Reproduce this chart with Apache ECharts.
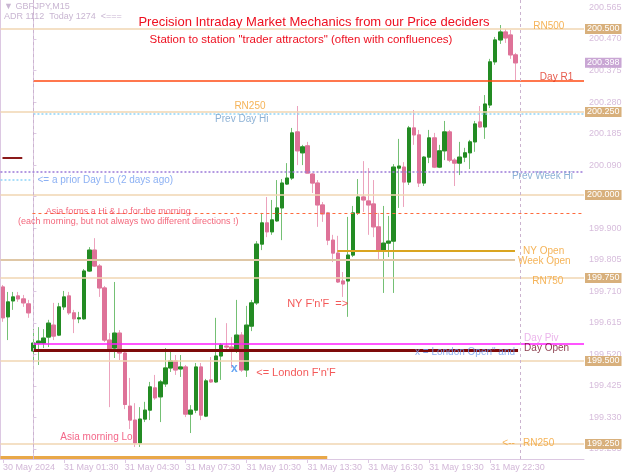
<!DOCTYPE html>
<html><head><meta charset="utf-8">
<script src="https://cdn.jsdelivr.net/npm/echarts@6/dist/echarts.min.js"></script>
<style>html,body{margin:0;padding:0;background:#fff}#c{width:625px;height:475px}</style>
</head><body><div id="c"></div>
<script>
// ---- data (bar index i: 0 = 31 May 00:00, M15 bars) ----
const firstBar = -6;
const lastSlot = 108;
const opens = [199.723,199.633,199.681,199.696,199.687,199.672,
199.530,199.554,199.554,199.572,199.608,199.578,199.663,199.696,199.645,199.627,
199.627,199.771,199.834,199.786,199.720,199.563,199.539,199.584,199.524,199.364,
199.322,199.253,199.325,199.352,199.419,199.392,199.431,199.479,199.500,199.476,
199.482,199.340,199.352,199.482,199.334,199.443,199.437,199.515,199.545,199.542,
199.530,199.578,199.473,199.605,199.675,199.852,199.916,199.889,199.922,199.961,
200.033,200.051,200.190,200.127,200.148,200.063,200.036,199.970,199.946,199.864,
199.825,199.741,199.741,199.819,199.946,199.994,199.982,199.973,199.904,199.831,
199.855,199.861,200.081,200.084,200.039,200.202,200.181,200.036,200.114,200.172,
200.084,200.133,200.190,200.105,200.096,200.114,200.127,200.160,200.220,200.205,
200.271,200.401,200.467,200.491,200.482,200.422];
const closes = [199.630,199.678,199.693,199.687,199.675,199.645,
199.554,199.560,199.569,199.614,199.575,199.663,199.693,199.645,199.627,199.630,
199.771,199.834,199.786,199.720,199.563,199.536,199.584,199.524,199.369,199.322,
199.253,199.325,199.352,199.422,199.389,199.437,199.479,199.500,199.473,199.482,
199.340,199.352,199.482,199.337,199.440,199.437,199.515,199.548,199.542,199.536,
199.578,199.473,199.608,199.675,199.852,199.916,199.889,199.925,199.961,200.036,
200.051,200.187,200.133,200.145,200.066,200.036,199.970,199.943,199.864,199.825,
199.738,199.732,199.819,199.946,199.994,199.985,199.970,199.904,199.831,199.855,
199.861,200.084,200.087,200.039,200.202,200.181,200.036,200.114,200.172,200.084,
200.133,200.190,200.105,200.096,200.114,200.127,200.160,200.214,200.205,200.274,
200.401,200.467,200.491,200.473,200.422,200.398];
const lows = [199.618,199.563,199.654,199.678,199.663,199.630,
199.503,199.488,199.539,199.542,199.563,199.575,199.654,199.639,199.584,199.614,
199.624,199.768,199.783,199.693,199.557,199.361,199.509,199.503,199.355,199.295,
199.241,199.241,199.316,199.322,199.383,199.316,199.422,199.467,199.458,199.452,
199.331,199.283,199.343,199.322,199.331,199.434,199.434,199.443,199.533,199.479,
199.524,199.467,199.452,199.590,199.669,199.834,199.873,199.880,199.919,199.864,
200.030,200.045,200.090,200.090,200.066,200.006,199.904,199.919,199.849,199.798,
199.735,199.693,199.633,199.813,199.940,199.949,199.880,199.873,199.804,199.705,
199.813,199.705,199.961,199.964,200.030,200.151,200.024,200.027,200.096,200.081,
200.081,200.105,200.099,200.027,200.060,200.099,200.078,200.130,200.202,200.169,
200.262,200.392,200.455,200.458,200.410,200.346];
const highs = [199.729,199.708,199.708,199.708,199.699,199.684,
199.596,199.602,199.596,199.624,199.675,199.675,199.711,199.708,199.654,199.648,
199.777,199.843,199.870,199.792,199.726,199.584,199.738,199.593,199.527,199.449,
199.373,199.361,199.377,199.437,199.458,199.443,199.539,199.533,199.518,199.518,
199.488,199.367,199.494,199.494,199.446,199.512,199.630,199.554,199.614,199.572,
199.684,199.587,199.666,199.684,199.861,199.946,199.994,199.985,200.045,200.048,
200.096,200.202,200.268,200.151,200.160,200.066,200.045,199.979,199.949,199.880,
199.877,199.768,199.934,199.967,200.048,200.102,200.081,200.045,199.946,199.967,
199.937,200.093,200.169,200.099,200.208,200.256,200.196,200.117,200.196,200.187,
200.151,200.223,200.196,200.111,200.160,200.142,200.166,200.223,200.268,200.301,
200.410,200.476,200.512,200.500,200.497,200.428];

const xTickBars = [-6, 6, 18, 30, 42, 54, 66, 78, 90];
const xTickText = ['30 May 2024','31 May 01:30','31 May 04:30','31 May 07:30','31 May 10:30','31 May 13:30','31 May 16:30','31 May 19:30','31 May 22:30'];
const yTicks = [200.565,200.470,200.375,200.280,200.185,200.090,199.995,199.900,199.805,199.710,199.615,199.520,199.425,199.330,199.235];
const roundNumbers = [200.500,200.250,200.000,199.750,199.500,199.250];
const bidPrice = 200.398;
const dayR1 = 200.343, prevDayHi = 200.244, prevWeekHi = 200.069, priorDayLo = 200.045;
const asiaLine = 199.946, nyOpen = 199.831, weekOpen = 199.804, dayPiv = 199.551, dayOpen = 199.533;
const oldMark = 200.111, bottomLine = 199.2093;
const separators = [0, 96];

const noteText = ['RN500','Day R1','RN250','Prev Day Hi','Prev Week Hi','<= a prior Day Lo (2 days ago)',
 'Asia forms a Hi & Lo for the morning','(each morning, but not always two different directions !)',
 'NY Open','Week Open','RN750',"NY F'n'F  =>",'Day Piv','Day Open','x = London Open" and','x',
 "<= London F'n'F",'Asia morning Lo','<--','RN250'];
const noteBar = [98.5,99.8,39.6,35.8,94.3,0.8,16.7,18.7,96.5,95.5,98.3,50.0,96.7,96.7,75.2,39.6,43.9,5.3,92.4,96.5];
const notePrice = [200.509,200.355,200.268,200.229,200.057,200.045,199.949,199.919,199.831,199.801,199.741,199.672,199.569,199.539,199.527,199.476,199.464,199.271,199.253,199.253];

// ---- build ----
const nSlots = lastSlot - firstBar + 1;
const cats = [];
const t0 = Date.UTC(2024,4,30,22,30);
for (let k = 0; k < nSlots; k++) {
  const d = new Date(t0 + k*15*60000);
  cats.push(d.getUTCDate()+' May '+String(d.getUTCHours()).padStart(2,'0')+':'+String(d.getUTCMinutes()).padStart(2,'0'));
}
const tickSet = new Set(xTickBars.map(b => b - firstBar));
const candles = opens.map((o,k)=>[o, closes[k], lows[k], highs[k]]);
const bodies = opens.map((o,k)=>[o, closes[k], Math.min(o,closes[k]), Math.max(o,closes[k])]);

const FONT = '"Liberation Sans", Arial, sans-serif';
const tan = '#f1d6b2';
const ORANGE = '#f2a02e';
const noteStyle = [
 {color:ORANGE,fontSize:10},{color:'#e0301e',fontSize:10},{color:ORANGE,fontSize:10},{color:'#6f9ecb',fontSize:10},
 {color:'#6f9ecb',fontSize:10},{color:'#6e9cf0',fontSize:10},
 {color:'#f0405a',fontSize:9,align:'center'},{color:'#f0405a',fontSize:9,align:'center'},
 {color:ORANGE,fontSize:10},{color:ORANGE,fontSize:10},{color:ORANGE,fontSize:10},{color:'#f03030',fontSize:11},
 {color:'#e6a2e6',fontSize:10},{color:'#6b0a1e',fontSize:10},{color:'#6e9cf0',fontSize:10},
 {color:'#3f8ef0',fontSize:12,align:'center',fontWeight:'bold'},
 {color:'#f03030',fontSize:11},{color:'#f0406a',fontSize:10},{color:ORANGE,fontSize:10},{color:ORANGE,fontSize:10}
];
const notes = noteText.map((t,k)=>({
  value:[noteBar[k], notePrice[k]],
  label:{show:true, position:'inside', formatter:t, color:noteStyle[k].color, fontSize:noteStyle[k].fontSize,
    align:noteStyle[k].align||'left', verticalAlign:'middle', fontFamily:FONT, fontWeight:noteStyle[k].fontWeight||'normal'}
}));

function seg(a,b,p,style){ return [{coord:[a,p], lineStyle:style},{coord:[b,p]}]; }
const boxLabel = (bg, p)=>({show:true, position:'end', distance:1, formatter:p.toFixed(3),
  backgroundColor:bg, color:'#fff', fontSize:9, fontFamily:FONT, padding:[1,2,0,2]});

const lineData = [];
roundNumbers.forEach(p => lineData.push({yAxis:p, lineStyle:{color:tan,width:1.5,type:'solid'}, label:boxLabel('#d8b07c', p)}));
lineData.push({yAxis:bidPrice, lineStyle:{color:'rgba(0,0,0,0)',width:0}, label:boxLabel('#c9a6d4', bidPrice)});
lineData.push({yAxis:prevWeekHi, lineStyle:{color:'#9a78d8',width:1.5,type:[2,2]}});
lineData.push(seg(0, 108.5, dayR1, {color:'#ff4a12',width:1.5,type:'solid'}));
lineData.push(seg(0, 108.5, prevDayHi, {color:'#8fd4f8',width:1.5,type:[2,2]}));
lineData.push(seg(-6.5, -0.6, priorDayLo, {color:'#8fd4f8',width:1.5,type:[2,2]}));
lineData.push(seg(-0.2, 108.5, asiaLine, {color:'#ff6a3c',width:1,type:[3,3]}));
lineData.push(seg(59.9, 94.9, nyOpen, {color:'#daa520',width:2,type:'solid'}));
lineData.push(seg(-6.5, 94.9, weekOpen, {color:'#dfc7a6',width:2,type:'solid'}));
lineData.push(seg(0, 108.5, dayPiv, {color:'#ff1cff',width:1.5,type:'solid'}));
lineData.push(seg(0, 95.5, dayOpen, {color:'#7e0a0a',width:3,type:'solid'}));
lineData.push(seg(-6.1, -2.2, oldMark, {color:'#8b1a1a',width:2,type:'solid'}));
lineData.push(seg(-6.5, 57.9, bottomLine, {color:'#e9a848',width:3,type:'solid'}));
separators.forEach(b => lineData.push({xAxis:b, lineStyle:{color:'#cbb3cf',width:1,type:[3,3]}}));

const chart = echarts.init(document.getElementById('c'));
chart.setOption({
  animation:false,
  backgroundColor:'#ffffff',
  textStyle:{fontFamily:FONT},
  grid:{left:0, right:41, top:0, bottom:16, containLabel:false},
  xAxis:[
    {type:'category', data:cats, boundaryGap:true,
     axisLine:{show:true, lineStyle:{color:'#dcc8e2'}},
     axisTick:{show:true, alignWithLabel:true, interval:(idx)=>tickSet.has(idx), length:4, lineStyle:{color:'#dcc8e2'}},
     axisLabel:{interval:(idx)=>tickSet.has(idx), align:'left', color:'#d3b8d8', fontSize:9, margin:4, fontFamily:FONT,
       formatter:(v,idx)=>{const b = idx + firstBar; const j = xTickBars.indexOf(b); return j>=0 ? xTickText[j] : '';}},
     splitLine:{show:false}},
    {type:'value', min:firstBar-0.5, max:lastSlot+0.5, show:false}
  ],
  yAxis:[
    {type:'value', position:'right', min:199.2048, max:200.5873, scale:true,
     axisLine:{show:true, lineStyle:{color:'#dcc8e2'}},
     axisTick:{show:true, customValues:yTicks, length:3, lineStyle:{color:'#dcc8e2'}},
     axisLabel:{customValues:yTicks, formatter:(v)=>v.toFixed(3), color:'#d7bddc', fontSize:9, margin:5, fontFamily:FONT},
     splitLine:{show:false}},
    {type:'value', position:'left', min:199.2048, max:200.5873,
     axisLine:{show:true, lineStyle:{color:'#dcc8e2'}}, axisTick:{show:false}, axisLabel:{show:false}, splitLine:{show:false}}
  ],
  series:[
    {type:'line', xAxisIndex:1, yAxisIndex:0, data:[], silent:true, clip:false, z:1,
     markLine:{silent:true, precision:3, symbol:['none','none'], label:{show:false}, animation:false, data:lineData}},
    {type:'candlestick', xAxisIndex:0, yAxisIndex:0, data:candles, barWidth:4, z:3,
     itemStyle:{color:'rgba(0,0,0,0)', color0:'rgba(0,0,0,0)', borderColor:'#74c074', borderColor0:'#eca3bd', borderWidth:1}},
    {type:'candlestick', xAxisIndex:0, yAxisIndex:0, data:bodies, barWidth:4, z:4,
     itemStyle:{color:'#238b23', color0:'#de7298', borderColor:'#238b23', borderColor0:'#de7298', borderWidth:1}},
    {type:'scatter', xAxisIndex:1, yAxisIndex:0, data:notes, symbolSize:1, itemStyle:{color:'rgba(0,0,0,0)'}, z:6, silent:true}
  ],
  graphic:[
    {type:'text', left:4, top:2, style:{text:'\u25BC GBPJPY,M15', fill:'#c9b6d2', fontSize:9, fontFamily:FONT}},
    {type:'text', left:4, top:12, style:{text:'ADR 1112  Today 1274  <===', fill:'#c9b6d2', fontSize:9, fontFamily:FONT}},
    {type:'text', x:314, y:22, style:{text:'Precision Intraday Market Mechanics from our Price deciders', fill:'#ee1020', fontSize:13, fontFamily:FONT, align:'center', verticalAlign:'middle'}},
    {type:'text', x:301, y:40, style:{text:'Station to station "trader attractors" (often with confluences)', fill:'#ee1020', fontSize:11.5, fontFamily:FONT, align:'center', verticalAlign:'middle'}}
  ]
});
</script></body></html>
